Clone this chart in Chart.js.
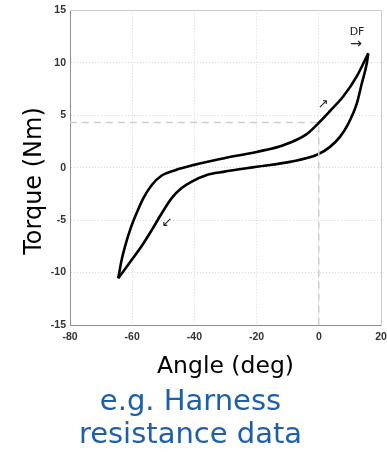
<!DOCTYPE html>
<html><head><meta charset="utf-8">
<script src="https://cdn.jsdelivr.net/npm/chart.js@4.4.1/dist/chart.umd.min.js"></script>
<style>html,body{margin:0;padding:0;background:#fff;}</style>
</head><body>
<canvas id="c" width="387" height="452"></canvas>
<script>
// ---- data ----
const xTicks = [-80, -60, -40, -20, 0, 20];
const yTicks = [-15, -10, -5, 0, 5, 10, 15];
const angleLoading  = [-64.5, -63.4, -62.3, -60.7, -58.6, -56.4, -53.7, -50.5, -46.2, -40.4, -30.7, -20.0, -11.4, -3.9, 0.4, 3.6, 7.9, 12.2, 15.9];
const torqueLoading = [-10.55, -8.8, -7.5, -5.95, -4.35, -2.9, -1.65, -0.75, -0.24, 0.24, 0.88, 1.5, 2.14, 3.2, 4.4, 5.4, 6.8, 8.7, 10.9];
const angleUnloading  = [-64.5, -60.2, -57.0, -53.7, -50.5, -47.3, -44.1, -41.0, -36.0, -30.7, -20.0, -9.3, -0.4, 3.6, 6.8, 9.5, 12.2, 13.8, 15.4, 15.9];
const torqueUnloading = [-10.55, -8.8, -7.5, -5.95, -4.35, -2.9, -1.95, -1.35, -0.7, -0.4, 0.08, 0.55, 1.25, 1.98, 2.93, 4.2, 6.1, 8.0, 9.9, 10.9];
const refAngle  = [-80, 0, 0];
const refTorque = [4.3, 4.3, -15];
const annotations = [
  {text: 'DF', x: 12.3, y: 12.9, size: 11},
  {text: '\u2192', x: 12.0, y: 11.8, size: 14},
  {text: '\u2197', x: 1.4, y: 6.0, size: 13},
  {text: '\u2199', x: -48.8, y: -5.2, size: 13}
];
const xTitle = 'Angle (deg)';
const yTitle = 'Torque (Nm)';
const noteLines = ['e.g. Harness', 'resistance data'];

const pts = (xs, ys) => xs.map((v, i) => ({x: v, y: ys[i]}));

const annotationPlugin = {
  id: 'annot',
  afterDatasetsDraw(chart) {
    const {ctx, scales: {x, y}} = chart;
    ctx.save();
    ctx.fillStyle = '#222';
    ctx.textAlign = 'center';
    ctx.textBaseline = 'middle';
    annotations.forEach(a => {
      ctx.font = a.size + 'px "DejaVu Sans", sans-serif';
      ctx.fillText(a.text, x.getPixelForValue(a.x), y.getPixelForValue(a.y));
    });
    ctx.restore();
  },
  afterDraw(chart) {
    const {ctx} = chart;
    ctx.save();
    ctx.translate(35, 181);
    ctx.rotate(-Math.PI / 2);
    ctx.fillStyle = '#000';
    ctx.font = '24px "DejaVu Sans", sans-serif';
    ctx.textAlign = 'center';
    ctx.textBaseline = 'middle';
    ctx.fillText(yTitle, 0, 0);
    ctx.restore();
  }
};

const tickFont = {family: '"Liberation Sans Narrow", "Liberation Sans", Arial, sans-serif', size: 10.5, weight: 'bold'};

new Chart(document.getElementById('c'), {
  type: 'scatter',
  data: {
    datasets: [
      {data: pts(refAngle, refTorque), showLine: true, borderColor: '#cfcfcf', borderWidth: 1.5, borderDash: [7, 5], pointRadius: 0, tension: 0},
      {data: pts(angleLoading, torqueLoading), showLine: true, borderColor: '#000', borderWidth: 2.6, pointRadius: 0, cubicInterpolationMode: 'monotone'},
      {data: pts(angleUnloading, torqueUnloading), showLine: true, borderColor: '#000', borderWidth: 2.6, pointRadius: 0, cubicInterpolationMode: 'monotone'}
    ]
  },
  options: {
    responsive: false,
    animation: false,
    devicePixelRatio: 1,
    layout: {padding: {top: 10, right: 6, left: 0, bottom: 0}},
    plugins: {
      legend: {display: false},
      tooltip: {enabled: false},
      title: {
        display: true, position: 'bottom', text: noteLines, color: '#1f5fa8',
        font: {family: '"DejaVu Sans", sans-serif', size: 29, weight: 'normal', lineHeight: '33px'},
        padding: {top: 0, bottom: 0}
      }
    },
    scales: {
      x: {
        type: 'linear', position: 'bottom', min: -80, max: 20,
        afterBuildTicks: s => { s.ticks = xTicks.map(v => ({value: v})); },
        afterFit: s => { s.height = 61; s.paddingRight = 0; s.paddingLeft = 0; },
        ticks: {color: '#333', font: tickFont, padding: 6, maxRotation: 0},
        grid: {color: '#d6d6d6', drawTicks: false},
        border: {color: '#8f8f8f', width: 1, dash: [1, 2]},
        title: {display: true, text: xTitle, color: '#000', font: {family: '"DejaVu Sans", sans-serif', size: 23.5, lineHeight: 1.2}, padding: {top: 0, bottom: 5}}
      },
      y: {
        type: 'linear', position: 'left', min: -15, max: 15,
        afterBuildTicks: s => { s.ticks = yTicks.map(v => ({value: v})); },
        afterFit: s => { s.width = 70; },
        ticks: {color: '#333', font: tickFont, padding: 4},
        grid: {color: '#d6d6d6', drawTicks: false},
        border: {color: '#8f8f8f', width: 1, dash: [1, 2]}
      },
      x2: {
        type: 'linear', position: 'top', min: -80, max: 20,
        afterFit: s => { s.height = 0; s.paddingRight = 0; s.paddingLeft = 0; },
        ticks: {display: false}, grid: {display: false, drawTicks: false},
        border: {display: true, color: '#cccccc'}
      },
      y2: {
        type: 'linear', position: 'right', min: -15, max: 15,
        afterFit: s => { s.width = 0; },
        ticks: {display: false}, grid: {display: false, drawTicks: false},
        border: {display: true, color: '#cccccc'}
      }
    }
  },
  plugins: [annotationPlugin]
});
</script>
</body></html>
